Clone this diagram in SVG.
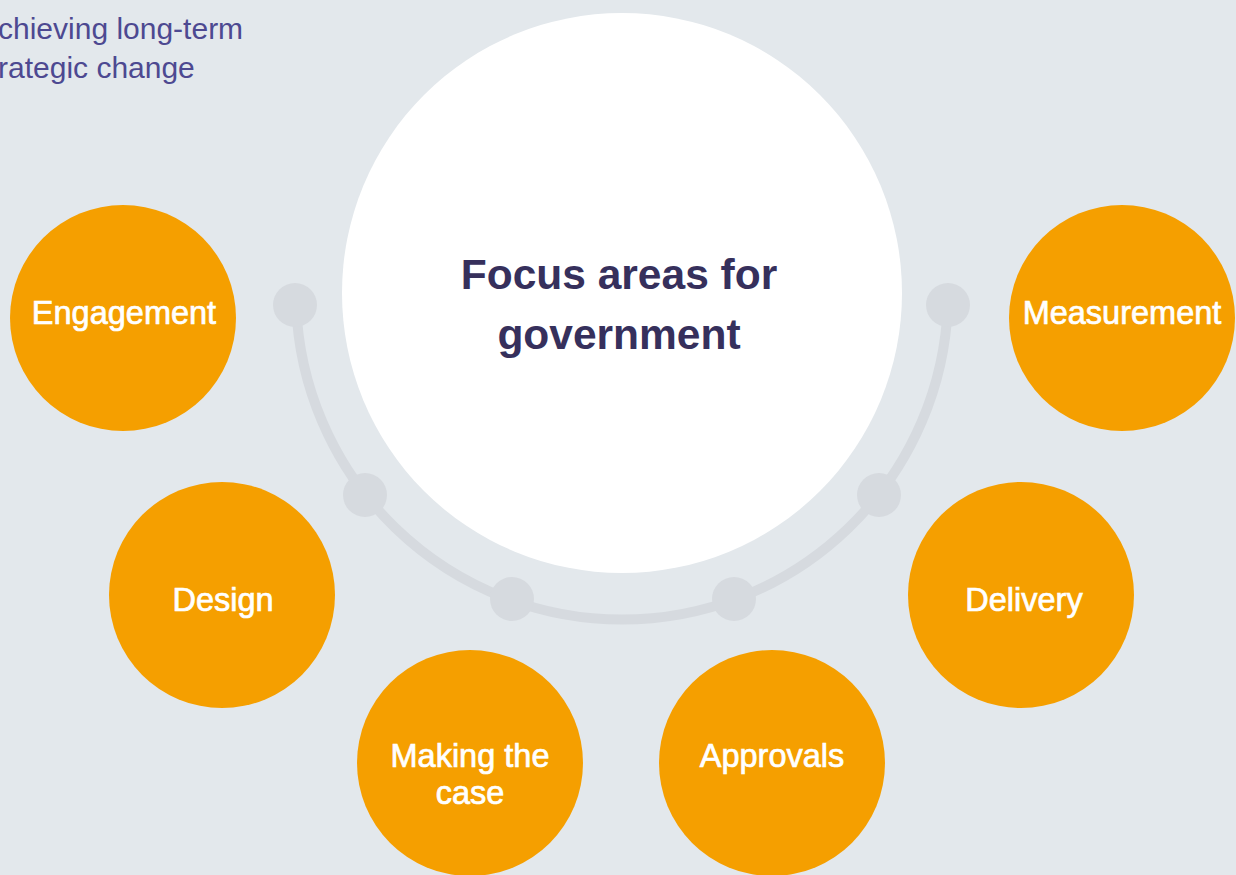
<svg xmlns="http://www.w3.org/2000/svg" width="1236" height="875" viewBox="0 0 1236 875">
<style>
.bg{fill:#E3E8EC}
.hub{fill:#FFFFFF}
.node{fill:#F59F00}
.dot{fill:#D6DADF}
.track{fill:none;stroke:#D6DADF;stroke-width:10}
.lbl{font-family:"Liberation Sans",Arial,sans-serif;font-size:32.5px;fill:#FFFFFF;stroke:#FFFFFF;stroke-width:0.7;text-anchor:middle}
.title{font-family:"Liberation Sans",Arial,sans-serif;font-size:42.5px;font-weight:bold;fill:#36305C;text-anchor:middle}
.intro{font-family:"Liberation Sans",Arial,sans-serif;font-size:30px;fill:#4D4991}
</style>
<rect class="bg" x="0" y="0" width="1236" height="875"/>
<text class="intro" x="-2" y="39">chieving long-term</text>
<text class="intro" x="-2" y="78">rategic change</text>
<g id="connectors">
<path class="track" d="M296.2 305 A326 326 0 0 0 947.8 305"/>
<circle class="dot" cx="295" cy="305" r="22"/>
<circle class="dot" cx="365" cy="495" r="22"/>
<circle class="dot" cx="512" cy="599" r="22"/>
<circle class="dot" cx="734" cy="599" r="22"/>
<circle class="dot" cx="879" cy="495" r="22"/>
<circle class="dot" cx="948" cy="305" r="22"/>
</g>
<g id="hub">
<circle class="hub" cx="622" cy="293" r="280"/>
<text class="title" x="619" y="289">Focus areas for</text>
<text class="title" x="619" y="349">government</text>
</g>
<g id="engagement">
<circle class="node" cx="123" cy="318" r="113"/>
<text class="lbl" x="124" y="324">Engagement</text>
</g>
<g id="design">
<circle class="node" cx="222" cy="595" r="113"/>
<text class="lbl" x="223" y="611">Design</text>
</g>
<g id="making-the-case">
<circle class="node" cx="470" cy="763" r="113"/>
<text class="lbl" x="470" y="767">Making the</text>
<text class="lbl" x="470" y="804">case</text>
</g>
<g id="approvals">
<circle class="node" cx="772" cy="763" r="113"/>
<text class="lbl" x="772" y="767">Approvals</text>
</g>
<g id="delivery">
<circle class="node" cx="1021" cy="595" r="113"/>
<text class="lbl" x="1024" y="611">Delivery</text>
</g>
<g id="measurement">
<circle class="node" cx="1122" cy="318" r="113"/>
<text class="lbl" x="1122" y="324">Measurement</text>
</g>
</svg>
